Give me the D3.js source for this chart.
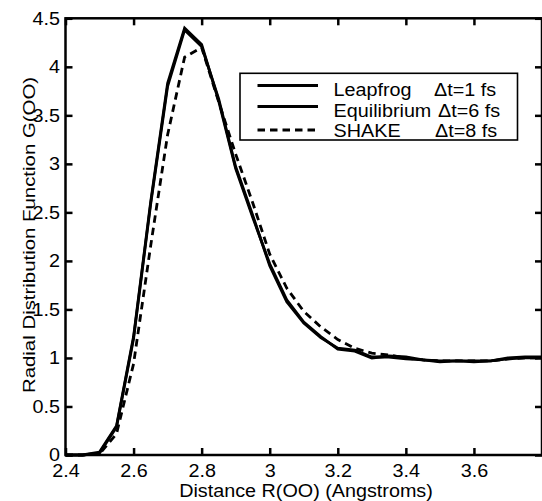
<!DOCTYPE html>
<html><head><meta charset="utf-8">
<script src="https://cdn.jsdelivr.net/npm/d3@7"></script>
<style>
html,body{margin:0;padding:0;background:#fff;}
svg{display:block;font-family:"Liberation Sans",Arial,Helvetica,sans-serif;}
</style></head>
<body>
<svg id="chart" width="542" height="501"></svg>
<script>
// ---- data ----
const distance = [2.40,2.45,2.50,2.55,2.60,2.65,2.70,2.75,2.80,2.85,2.90,2.95,3.00,3.05,3.10,3.15,3.20,3.25,3.30,3.35,3.40,3.45,3.50,3.55,3.60,3.65,3.70,3.75,3.80];
const leapfrog = [0,0,0.03,0.30,1.22,2.60,3.83,4.40,4.23,3.65,2.95,2.45,1.97,1.60,1.37,1.22,1.09,1.07,1.00,1.02,1.01,0.98,0.97,0.97,0.97,0.97,0.99,1.00,1.00];
const equilibrium = [0,0,0.02,0.29,1.20,2.58,3.80,4.38,4.21,3.67,2.97,2.47,1.95,1.58,1.36,1.21,1.10,1.08,1.01,1.01,0.99,0.98,0.96,0.97,0.96,0.97,1.00,1.01,1.01];
const shake = [0,0,0.01,0.22,0.94,2.15,3.30,4.10,4.20,3.64,3.10,2.60,2.07,1.72,1.48,1.32,1.19,1.10,1.05,1.03,1.00,0.98,0.97,0.97,0.97,0.97,0.99,1.00,1.00];
const xTicks = [2.4,2.6,2.8,3.0,3.2,3.4,3.6,3.8];
const xTickLabels = ["2.4","2.6","2.8","3","3.2","3.4","3.6",""];
const yTicks = [0,0.5,1,1.5,2,2.5,3,3.5,4,4.5];
const yTickLabels = ["0","0.5","1","1.5","2","2.5","3","3.5","4","4.5"];
const seriesNames = ["Leapfrog","Equilibrium","SHAKE"];
const seriesSteps = ["\u0394t=1 fs","\u0394t=6 fs","\u0394t=8 fs"];
const xTitle = "Distance R(OO) (Angstroms)";
const yTitle = "Radial Distribution Function G(OO)";

// ---- layout ----
const L = 65.5, R = 542, T = 18.3, B = 455;
const SX = 1.13; // horizontal text stretch
const svg = d3.select("#chart");
const x = d3.scaleLinear().domain([2.4, 3.8]).range([L, R]);
const y = d3.scaleLinear().domain([0, 4.5]).range([B, T]);

const series = [
  {name: seriesNames[0], step: seriesSteps[0], vals: leapfrog, dash: null},
  {name: seriesNames[1], step: seriesSteps[1], vals: equilibrium, dash: null},
  {name: seriesNames[2], step: seriesSteps[2], vals: shake, dash: "7.5,5"}
];

const line = d3.line().x(d => x(d[0])).y(d => y(d[1]));
series.forEach(s => {
  svg.append("path")
    .datum(distance.map((r, i) => [r, s.vals[i]]))
    .attr("d", line)
    .attr("fill", "none")
    .attr("stroke", "#000")
    .attr("stroke-width", 2.8)
    .attr("stroke-linejoin", "miter")
    .attr("stroke-dasharray", s.dash);
});

// axes (inward ticks)
const fmtX = d => xTickLabels[xTicks.indexOf(d)];
const fmtY = d => yTickLabels[yTicks.indexOf(d)];
const gxB = svg.append("g").attr("transform", `translate(0,${B})`)
  .call(d3.axisBottom(x).tickValues(xTicks).tickFormat(fmtX).tickSizeInner(-7).tickSizeOuter(0));
const gxT = svg.append("g").attr("transform", `translate(0,${T})`)
  .call(d3.axisTop(x).tickValues(xTicks).tickFormat("").tickSizeInner(-7).tickSizeOuter(0));
const gyL = svg.append("g").attr("transform", `translate(${L},0)`)
  .call(d3.axisLeft(y).tickValues(yTicks).tickFormat(fmtY).tickSizeInner(-7).tickSizeOuter(0));
const gyR = svg.append("g").attr("transform", `translate(${R},0)`)
  .call(d3.axisRight(y).tickValues(yTicks).tickFormat("").tickSizeInner(-7).tickSizeOuter(0));
[gxB, gxT, gyL, gyR].forEach(g => {
  g.select(".domain").remove();
  g.selectAll("line").attr("stroke", "#000").attr("stroke-width", 2.5);
});
gxB.selectAll("text").attr("y", 0).attr("dy", null)
  .attr("transform", `translate(0,21.5) scale(${SX},1)`)
  .attr("font-size", 17.5).attr("fill", "#000").attr("font-family", null);
gyL.selectAll("text").attr("x", 0).attr("dy", "0.34em")
  .attr("text-anchor", "end")
  .attr("transform", `translate(-5.5,0) scale(${SX},1)`)
  .attr("font-size", 17.5).attr("fill", "#000").attr("font-family", null);

// frame
svg.append("rect").attr("x", L).attr("y", T).attr("width", R - L).attr("height", B - T)
  .attr("fill", "none").attr("stroke", "#000").attr("stroke-width", 2.5);

// titles
svg.append("text").attr("text-anchor", "middle").attr("font-size", 17.5)
  .attr("transform", `translate(306,497) scale(${SX},1)`).text(xTitle);
svg.append("text").attr("text-anchor", "middle").attr("font-size", 17)
  .attr("transform", `translate(35,235) rotate(-90) scale(1.2,1)`).text(yTitle);

// legend
const lg = svg.append("g");
lg.append("rect").attr("x", 240).attr("y", 73.3).attr("width", 277.5).attr("height", 66.7)
  .attr("fill", "#fff").attr("stroke", "#000").attr("stroke-width", 1.6);
const rowLineY = [85.5, 106.5, 130];
const rowTextY = [96, 116.7, 137.3];
const stepX = [434, 438, 435];
series.forEach((s, i) => {
  lg.append("line").attr("x1", 257.5).attr("x2", 318).attr("y1", rowLineY[i]).attr("y2", rowLineY[i])
    .attr("stroke", "#000").attr("stroke-width", 2.8).attr("stroke-dasharray", s.dash);
  lg.append("text").attr("font-size", 17.5)
    .attr("transform", `translate(333.6,${rowTextY[i]}) scale(${SX},1)`).text(s.name);
  lg.append("text").attr("font-size", 17.5)
    .attr("transform", `translate(${stepX[i]},${rowTextY[i]}) scale(${SX},1)`).text(s.step);
});
</script>
</body></html>
